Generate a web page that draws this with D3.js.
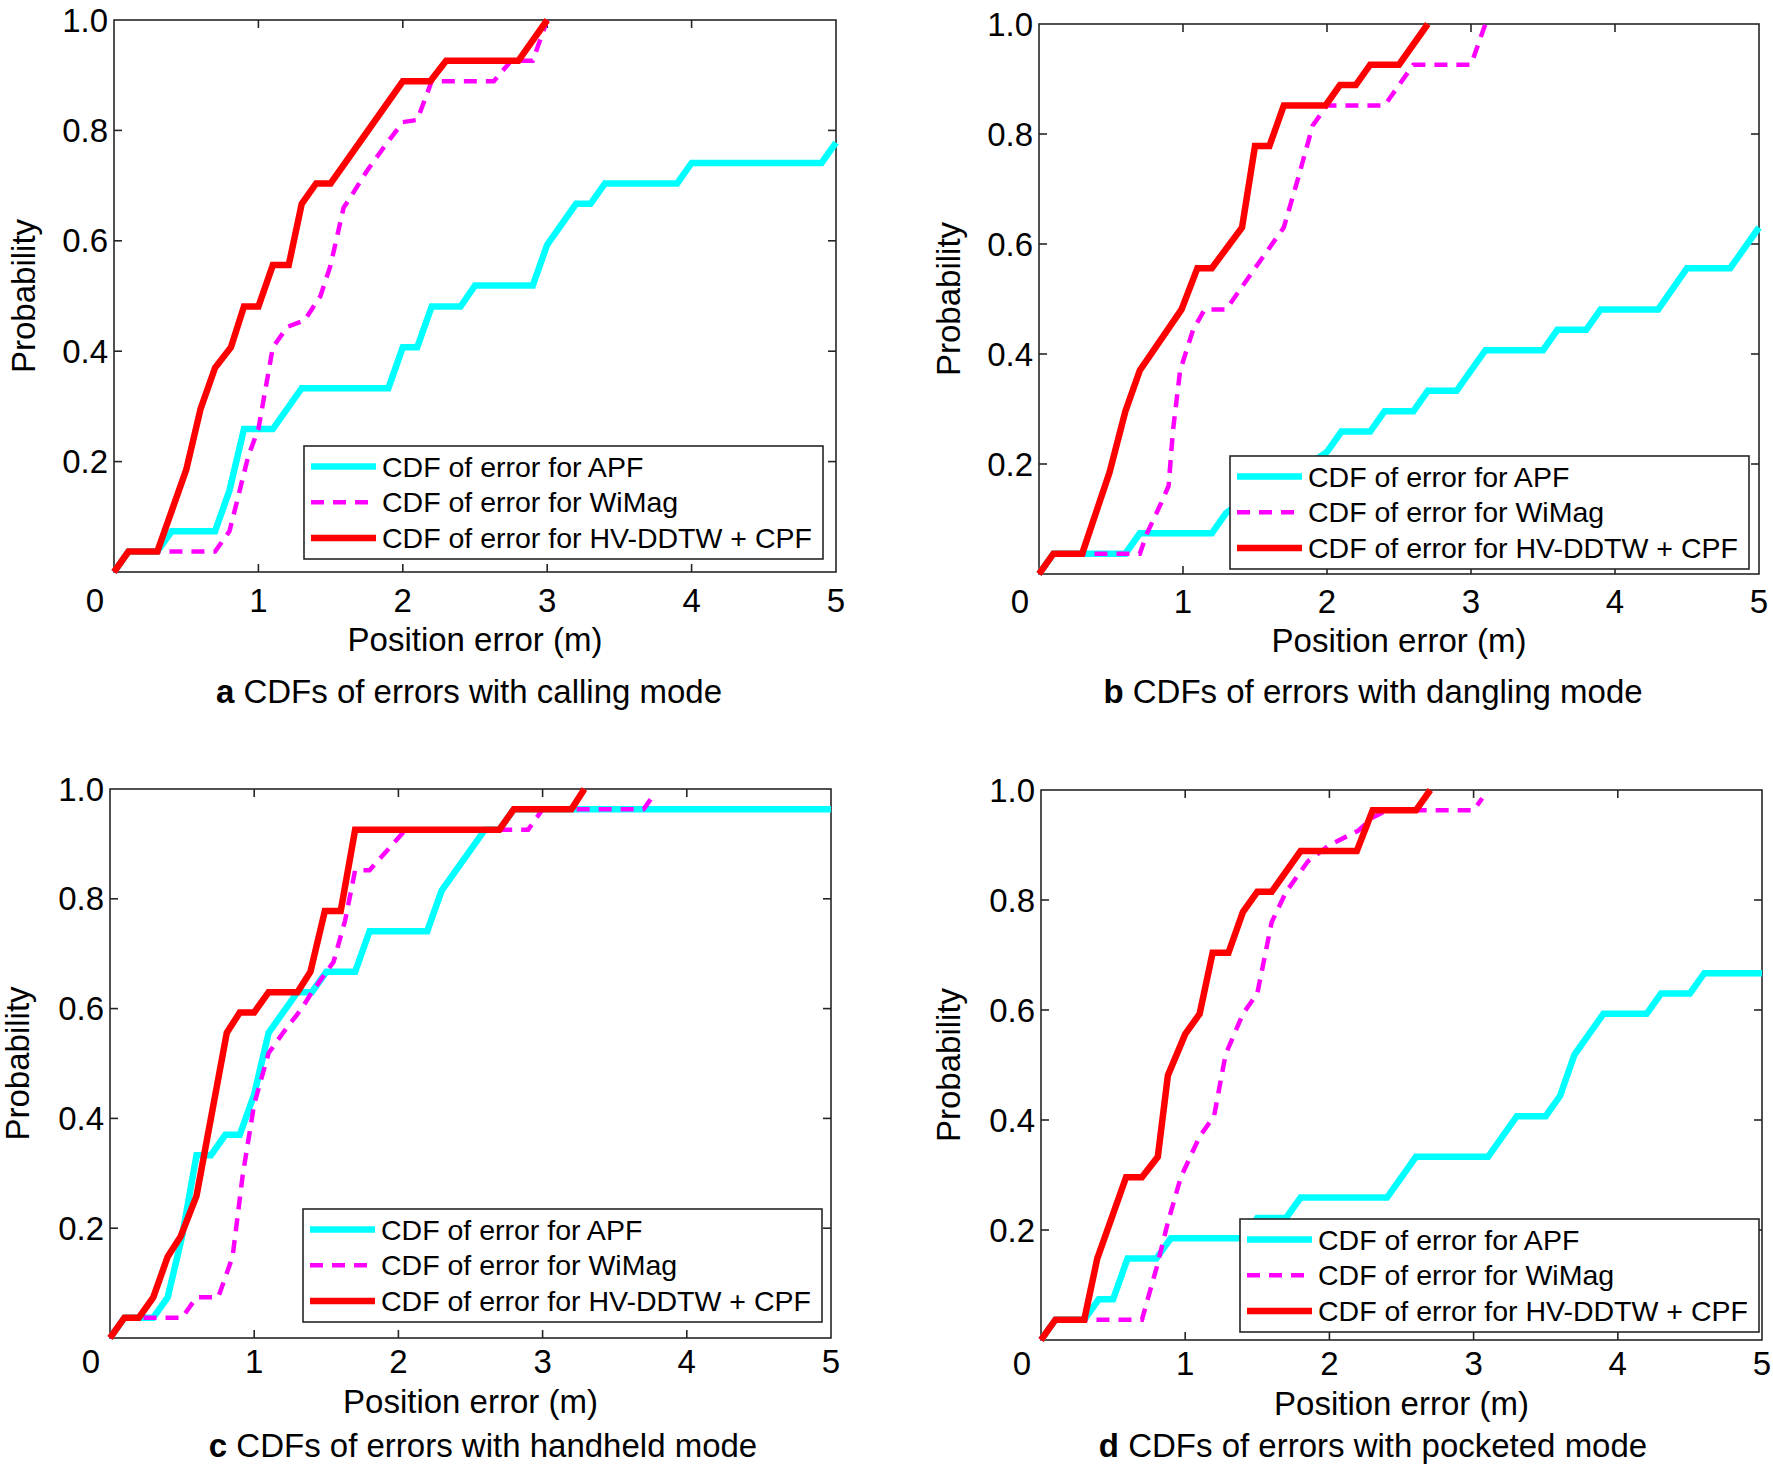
<!DOCTYPE html>
<html lang="en">
<head>
<meta charset="utf-8">
<title>CDFs of position errors</title>
<script src="https://cdn.jsdelivr.net/npm/d3@7"></script>
<style>
    body { margin: 0; background: #fff; }
    svg text { font-family: "Liberation Sans", Arial, Helvetica, sans-serif; fill: #000; }
    .frame { fill: none; stroke: #262626; stroke-width: 1.6px; }
    .tick { stroke: #262626; stroke-width: 1.6px; }
    .legend rect { fill: #fff; stroke: #262626; stroke-width: 1.6px; }
</style>
</head>
<body>
<script>

// ---- data: [position error (m), cumulative probability] ----
var xTicks = [0, 1, 2, 3, 4, 5];
var yTicks = [0.2, 0.4, 0.6, 0.8, 1.0];
var seriesNames = ["CDF of error for APF", "CDF of error for WiMag", "CDF of error for HV-DDTW + CPF"];

// a: calling mode
var callingAPF = [[0,0],[0.1,0.037],[0.3,0.037],[0.4,0.074],[0.7,0.074],[0.8,0.148],[0.9,0.259],[1.1,0.259],[1.3,0.333],[1.9,0.333],[2.0,0.407],[2.1,0.407],[2.2,0.481],[2.4,0.481],[2.5,0.519],[2.9,0.519],[3.0,0.593],[3.2,0.667],[3.3,0.667],[3.4,0.704],[3.9,0.704],[4.0,0.741],[4.9,0.741],[5.0,0.778]];
var callingWiMag = [[0,0],[0.1,0.037],[0.3,0.037],[0.7,0.037],[0.8,0.074],[0.93,0.21],[1.0,0.259],[1.1,0.407],[1.2,0.444],[1.32,0.456],[1.43,0.5],[1.5,0.556],[1.59,0.66],[1.65,0.684],[1.75,0.726],[1.87,0.77],[2.0,0.815],[2.1,0.819],[2.2,0.889],[2.63,0.889],[2.75,0.926],[2.9,0.926],[3.0,1.0]];
var callingOurs = [[0,0],[0.1,0.037],[0.3,0.037],[0.5,0.185],[0.6,0.296],[0.7,0.37],[0.81,0.407],[0.9,0.481],[1.0,0.481],[1.1,0.556],[1.21,0.556],[1.3,0.667],[1.4,0.704],[1.5,0.704],[2.0,0.889],[2.19,0.889],[2.3,0.926],[2.8,0.926],[3.0,1.0]];

// b: dangling mode
var danglingAPF = [[0,0],[0.1,0.037],[0.3,0.037],[0.6,0.037],[0.7,0.074],[1.2,0.074],[1.3,0.111],[1.5,0.148],[1.8,0.185],[2.0,0.222],[2.1,0.259],[2.3,0.259],[2.4,0.296],[2.6,0.296],[2.7,0.333],[2.9,0.333],[3.1,0.407],[3.5,0.407],[3.6,0.444],[3.8,0.444],[3.9,0.481],[4.3,0.481],[4.5,0.556],[4.8,0.556],[5.0,0.630]];
var danglingWiMag = [[0,0],[0.1,0.037],[0.3,0.037],[0.7,0.037],[0.75,0.074],[0.85,0.13],[0.9,0.16],[0.93,0.26],[0.98,0.37],[1.07,0.444],[1.15,0.481],[1.3,0.481],[1.5,0.556],[1.7,0.63],[1.8,0.72],[1.9,0.815],[2.0,0.852],[2.4,0.852],[2.6,0.926],[3.0,0.926],[3.1,1.0]];
var danglingOurs = [[0,0],[0.1,0.037],[0.3,0.037],[0.49,0.185],[0.6,0.296],[0.7,0.37],[0.99,0.481],[1.1,0.556],[1.2,0.556],[1.41,0.63],[1.5,0.778],[1.6,0.778],[1.7,0.852],[1.99,0.852],[2.09,0.889],[2.2,0.889],[2.3,0.926],[2.5,0.926],[2.7,1.0]];

// c: handheld mode
var handheldAPF = [[0,0],[0.1,0.037],[0.3,0.037],[0.4,0.074],[0.5,0.185],[0.6,0.333],[0.7,0.333],[0.8,0.370],[0.9,0.370],[1.0,0.444],[1.1,0.556],[1.3,0.630],[1.4,0.630],[1.5,0.667],[1.7,0.667],[1.8,0.741],[2.2,0.741],[2.3,0.815],[2.6,0.926],[2.7,0.926],[2.8,0.963],[5.0,0.963]];
var handheldWiMag = [[0,0],[0.1,0.037],[0.3,0.037],[0.5,0.037],[0.6,0.074],[0.75,0.074],[0.8,0.111],[0.85,0.148],[0.92,0.296],[1.0,0.426],[1.1,0.519],[1.2,0.556],[1.33,0.6],[1.4,0.63],[1.55,0.685],[1.63,0.76],[1.7,0.852],[1.8,0.852],[2.05,0.926],[2.9,0.926],[3.0,0.963],[3.7,0.963],[3.76,0.985]];
var handheldOurs = [[0,0],[0.1,0.037],[0.2,0.037],[0.3,0.074],[0.4,0.148],[0.49,0.185],[0.6,0.259],[0.81,0.556],[0.9,0.593],[1.0,0.593],[1.1,0.630],[1.3,0.630],[1.39,0.667],[1.49,0.778],[1.6,0.778],[1.7,0.926],[2.7,0.926],[2.8,0.963],[3.2,0.963],[3.29,1.0]];

// d: pocketed mode
var pocketedAPF = [[0,0],[0.1,0.037],[0.3,0.037],[0.4,0.074],[0.5,0.074],[0.6,0.148],[0.8,0.148],[0.9,0.185],[1.4,0.185],[1.5,0.222],[1.7,0.222],[1.8,0.259],[2.4,0.259],[2.6,0.333],[3.1,0.333],[3.3,0.407],[3.5,0.407],[3.6,0.444],[3.7,0.519],[3.9,0.593],[4.2,0.593],[4.3,0.630],[4.5,0.630],[4.6,0.667],[5.0,0.667]];
var pocketedWiMag = [[0,0],[0.1,0.037],[0.3,0.037],[0.7,0.037],[0.8,0.13],[0.88,0.214],[0.97,0.296],[1.1,0.37],[1.2,0.407],[1.28,0.519],[1.4,0.593],[1.5,0.63],[1.6,0.76],[1.7,0.815],[1.85,0.87],[2.0,0.9],[2.2,0.926],[2.3,0.95],[2.4,0.963],[3.0,0.963],[3.06,0.985]];
var pocketedOurs = [[0,0],[0.1,0.037],[0.3,0.037],[0.39,0.148],[0.59,0.296],[0.7,0.296],[0.81,0.333],[0.88,0.481],[1.0,0.556],[1.1,0.593],[1.19,0.704],[1.3,0.704],[1.4,0.778],[1.5,0.815],[1.6,0.815],[1.8,0.889],[2.19,0.889],[2.3,0.963],[2.6,0.963],[2.7,1.0]];

// ---- layout ----
var styles = [
    {color: "#00ffff", width: 6.5, dash: null},
    {color: "#ff00ff", width: 4.5, dash: "13,9"},
    {color: "#ff0000", width: 6.5, dash: null}
];

// box = [left, right, top, bottom]; tickDy / labelDy = offsets below the x axis
var panels = [
    {tag: "a", title: " CDFs of errors with calling mode",  box: [114, 836, 20, 572],    legend: [304, 446],   probX: 23,  capX: 469,  capY: 691,  tickDy: 28,   labelDy: 67,   data: [callingAPF, callingWiMag, callingOurs]},
    {tag: "b", title: " CDFs of errors with dangling mode", box: [1039, 1759, 24, 574],  legend: [1230, 456],  probX: 948, capX: 1373, capY: 691,  tickDy: 27,   labelDy: 66,   data: [danglingAPF, danglingWiMag, danglingOurs]},
    {tag: "c", title: " CDFs of errors with handheld mode", box: [110, 831, 789, 1338],  legend: [303, 1209],  probX: 17,  capX: 483,  capY: 1445, tickDy: 23.5, labelDy: 63.5, data: [handheldAPF, handheldWiMag, handheldOurs]},
    {tag: "d", title: " CDFs of errors with pocketed mode", box: [1041, 1762, 790, 1340], legend: [1240, 1219], probX: 948, capX: 1373, capY: 1445, tickDy: 23,   labelDy: 63,   data: [pocketedAPF, pocketedWiMag, pocketedOurs]}
];

var svg = d3.select("body").append("svg")
    .attr("width", 1773)
    .attr("height", 1470);

var tickLen = 8;

panels.forEach(function(p) {
    var x = d3.scaleLinear().domain([0, 5]).range([p.box[0], p.box[1]]);
    var y = d3.scaleLinear().domain([0, 1]).range([p.box[3], p.box[2]]);
    var g = svg.append("g");

    // frame
    g.append("rect").attr("class", "frame")
        .attr("x", p.box[0]).attr("y", p.box[2])
        .attr("width", p.box[1] - p.box[0]).attr("height", p.box[3] - p.box[2]);

    // x ticks (bottom + top, inward)
    xTicks.forEach(function(t) {
        if (t > 0 && t < 5) {
            g.append("line").attr("class", "tick")
                .attr("x1", x(t)).attr("x2", x(t)).attr("y1", y(0)).attr("y2", y(0) - tickLen);
            g.append("line").attr("class", "tick")
                .attr("x1", x(t)).attr("x2", x(t)).attr("y1", y(1)).attr("y2", y(1) + tickLen);
        }
        g.append("text")
            .attr("x", x(t) + (t === 0 ? -19 : 0))
            .attr("y", y(0) + p.tickDy)
            .attr("text-anchor", "middle")
            .attr("dominant-baseline", "central")
            .style("font-size", "33px")
            .text(t);
    });

    // y ticks (left + right, inward)
    yTicks.forEach(function(t) {
        if (t < 1) {
            g.append("line").attr("class", "tick")
                .attr("x1", x(0)).attr("x2", x(0) + tickLen).attr("y1", y(t)).attr("y2", y(t));
            g.append("line").attr("class", "tick")
                .attr("x1", x(5)).attr("x2", x(5) - tickLen).attr("y1", y(t)).attr("y2", y(t));
        }
        g.append("text")
            .attr("x", x(0) - 6)
            .attr("y", y(t))
            .attr("text-anchor", "end")
            .attr("dominant-baseline", "central")
            .style("font-size", "33px")
            .text(t.toFixed(1));
    });

    // curves: APF, WiMag, ours (ours on top)
    var line = d3.line()
        .x(function(d) { return x(d[0]); })
        .y(function(d) { return y(d[1]); });

    p.data.forEach(function(s, i) {
        g.append("path")
            .attr("d", line(s))
            .attr("fill", "none")
            .attr("stroke", styles[i].color)
            .attr("stroke-width", styles[i].width)
            .attr("stroke-dasharray", styles[i].dash)
            .attr("stroke-linejoin", "miter");
    });

    // legend
    var lg = g.append("g").attr("class", "legend")
        .attr("transform", "translate(" + p.legend[0] + "," + p.legend[1] + ")");
    lg.append("rect").attr("width", 519).attr("height", 113);
    seriesNames.forEach(function(name, i) {
        var ry = 20.5 + i * 35.8;
        lg.append("line")
            .attr("x1", 7).attr("x2", 72).attr("y1", ry).attr("y2", ry)
            .attr("stroke", styles[i].color)
            .attr("stroke-width", styles[i].width)
            .attr("stroke-dasharray", styles[i].dash);
        lg.append("text")
            .attr("x", 78).attr("y", ry)
            .attr("dominant-baseline", "central")
            .style("font-size", "28.5px")
            .text(name);
    });

    // axis labels
    g.append("text")
        .attr("transform", "translate(" + p.probX + "," + ((p.box[2] + p.box[3]) / 2) + ") rotate(-90)")
        .attr("text-anchor", "middle")
        .attr("dominant-baseline", "central")
        .style("font-size", "33px")
        .text("Probability");

    g.append("text")
        .attr("x", (p.box[0] + p.box[1]) / 2)
        .attr("y", p.box[3] + p.labelDy)
        .attr("text-anchor", "middle")
        .attr("dominant-baseline", "central")
        .style("font-size", "33px")
        .text("Position error (m)");

    // caption
    var cap = g.append("text")
        .attr("x", p.capX)
        .attr("y", p.capY)
        .attr("text-anchor", "middle")
        .attr("dominant-baseline", "central")
        .style("font-size", "33px");
    cap.append("tspan").style("font-weight", "bold").text(p.tag);
    cap.append("tspan").text(p.title);
});

</script>
</body>
</html>
